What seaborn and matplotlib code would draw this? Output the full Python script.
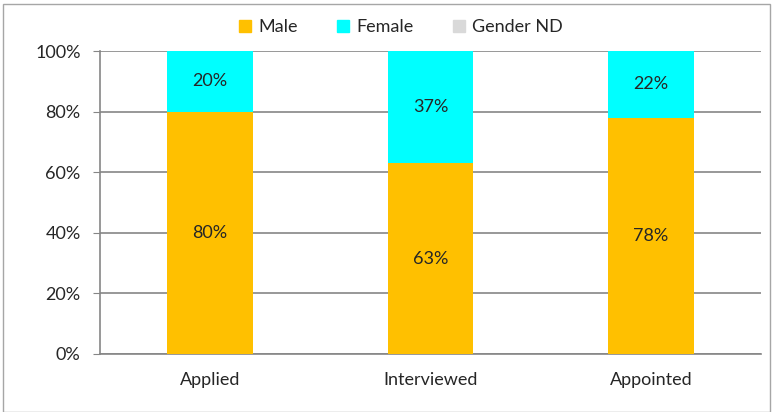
import matplotlib
matplotlib.use("Agg")
import matplotlib.pyplot as plt
import matplotlib.patches as mpatches
import seaborn as sns
import pandas as pd

stages = ["Applied", "Interviewed", "Appointed"]
male = [80, 63, 78]
female = [20, 37, 22]
gender_nd = [0, 0, 0]
yticks = [0, 20, 40, 60, 80, 100]

colors = {"Male": "#FFC000", "Female": "#00FFFF", "Gender ND": "#D9D9D9"}

sns.set_style("white")
plt.rcParams["font.family"] = ["Lato", "DejaVu Sans"]

df = pd.DataFrame({"stage": stages, "male": male, "female": female, "nd": gender_nd})
df["top_female"] = df["male"] + df["female"]
df["top_nd"] = df["top_female"] + df["nd"]

fig = plt.figure(figsize=(7.73, 4.12), dpi=100)
ax = fig.add_axes([100 / 773, 58 / 412, 661 / 773, 303 / 412])

# stacked by drawing the cumulative heights back to front
for col, key in [("top_nd", "Gender ND"), ("top_female", "Female"), ("male", "Male")]:
    sns.barplot(data=df, x="stage", y=col, color=colors[key], width=0.39,
                saturation=1, linewidth=0, edgecolor="none", ax=ax, zorder=3)

for i, row in df.iterrows():
    ax.text(i, row["male"] / 2, f"{row['male']}%", ha="center", va="center",
            fontsize=13, zorder=4)
    if row["female"] > 0:
        ax.text(i, row["male"] + row["female"] / 2, f"{row['female']}%", ha="center",
                va="center", fontsize=13, zorder=4)

ax.set_ylim(0, 100)
ax.set_xlim(-0.5, 2.5)
ax.set_yticks(yticks)
ax.set_yticklabels([f"{v}%" for v in yticks], fontsize=13)
ax.set_xticks(range(len(stages)))
ax.set_xticklabels(stages, fontsize=13)
ax.set_xticks([-0.5, 0.5, 1.5, 2.5], minor=True)
ax.tick_params(axis="x", which="major", length=0, pad=13)
ax.tick_params(axis="x", which="minor", length=5, color="#868686", direction="out")
ax.tick_params(axis="y", length=5, color="#868686", direction="out", left=True, pad=9)
ax.set_xlabel("")
ax.set_ylabel("")

ax.yaxis.grid(True, color="#868686", linewidth=1.2, zorder=0)
ax.set_axisbelow(True)
for s in ["top", "right"]:
    ax.spines[s].set_visible(False)
for s in ["left", "bottom"]:
    ax.spines[s].set_color("#868686")
    ax.spines[s].set_linewidth(1.2)

handles = [mpatches.Patch(color=c, label=k) for k, c in colors.items()]
fig.legend(handles=handles, loc="center", bbox_to_anchor=(401 / 773, 1 - 27 / 412), ncol=3,
           frameon=False, fontsize=13, handlelength=0.65, handleheight=0.65,
           handletextpad=0.4, columnspacing=2.2)

fig.patches.append(mpatches.Rectangle((3 / 773, 0), 1 - 6 / 773, 1 - 4 / 412,
                                      transform=fig.transFigure, fill=False,
                                      edgecolor="#A6A6A6", linewidth=1))

fig.savefig("out.png", dpi=100)
